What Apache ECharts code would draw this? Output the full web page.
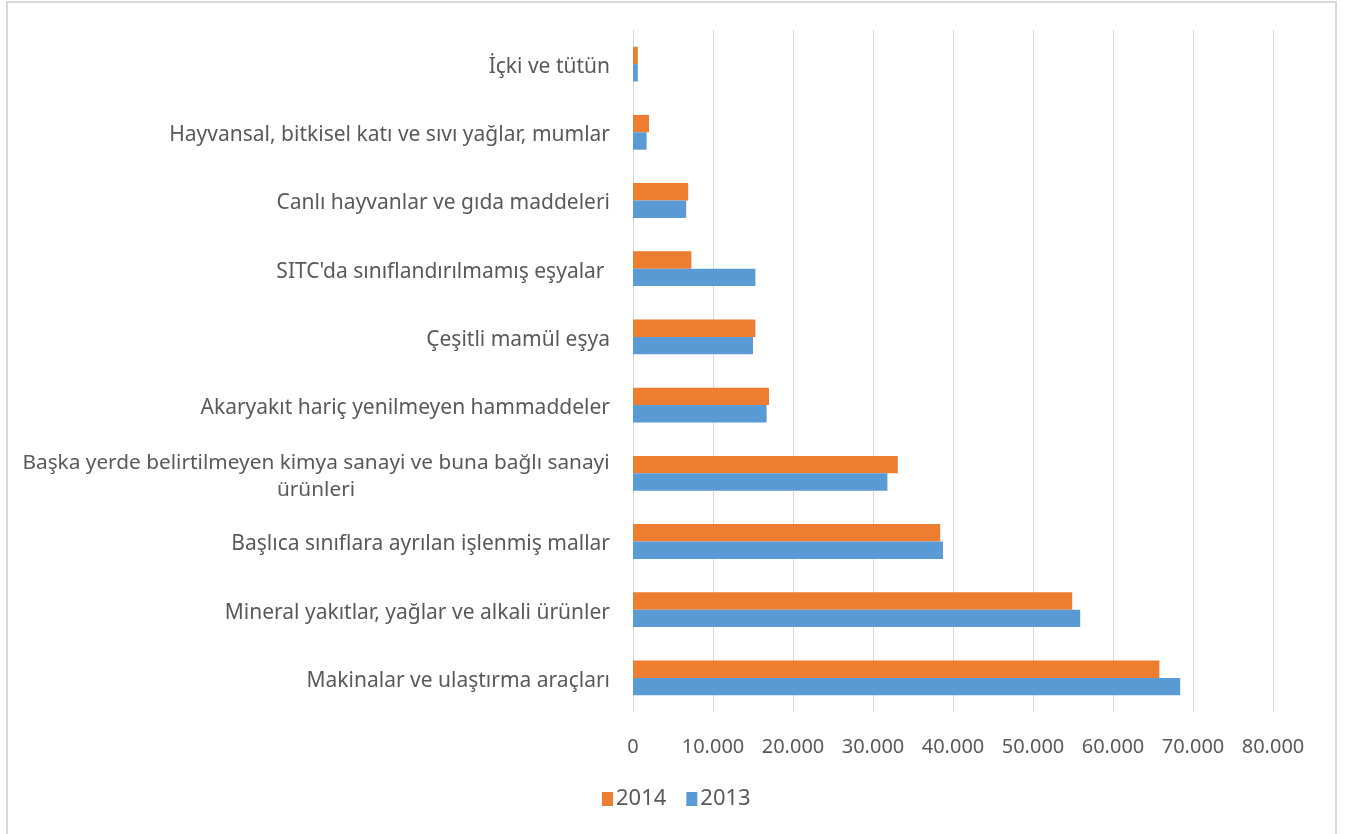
<!DOCTYPE html>
<html>
<head>
<meta charset="utf-8">
<script src="https://cdn.jsdelivr.net/npm/echarts@6/dist/echarts.min.js"></script>
<style>
  html, body { margin: 0; padding: 0; background: #fff; }
  #chart { width: 1357px; height: 834px; }
</style>
</head>
<body>
<div id="chart"></div>
<script>
// Categories listed bottom to top
const categories = [
  'Makinalar ve ulaştırma araçları',
  'Mineral yakıtlar, yağlar ve alkali ürünler',
  'Başlıca sınıflara ayrılan işlenmiş mallar',
  'Başka yerde belirtilmeyen kimya sanayi ve buna bağlı sanayi ürünleri',
  'Akaryakıt hariç yenilmeyen hammaddeler',
  'Çeşitli mamül eşya',
  "SITC'da sınıflandırılmamış eşyalar ",
  'Canlı hayvanlar ve gıda maddeleri',
  'Hayvansal, bitkisel katı ve sıvı yağlar, mumlar',
  'İçki ve tütün'
];
const values2014 = [65800, 54900, 38400, 33100, 17000, 15300, 7300, 6900, 2000, 600];
const values2013 = [68400, 55900, 38750, 31800, 16700, 15000, 15300, 6650, 1700, 600];
const seriesNames = ['2014', '2013'];

const LONG_SPLIT = 'Başka yerde belirtilmeyen kimya sanayi ve buna bağlı sanayi';

function fmtNum(v) {
  return String(v).replace(/\B(?=(\d{3})+(?!\d))/g, '.');
}

const chart = echarts.init(document.getElementById('chart'), null, { renderer: 'canvas' });
const textColor = '#595959';
const fontFamily = '"Noto Sans", sans-serif';

chart.setOption({
  animation: false,
  backgroundColor: '#ffffff',
  textStyle: { fontFamily: fontFamily },
  graphic: [{
    type: 'rect',
    shape: { x: 7, y: 2, width: 1329, height: 900 },
    style: { fill: 'none', stroke: '#d9d9d9', lineWidth: 2 },
    silent: true
  }],
  legend: {
    data: seriesNames,
    left: 597,
    top: 783,
    itemWidth: 11,
    itemHeight: 14,
    itemGap: 20,
    icon: 'rect',
    textStyle: { color: textColor, fontSize: 22, fontFamily: fontFamily, padding: [0, 0, 0, -2] }
  },
  grid: { left: 633, right: 84, top: 30, bottom: 122 },
  xAxis: {
    type: 'value',
    min: 0,
    max: 80000,
    interval: 10000,
    axisLine: { show: false },
    axisTick: { show: false },
    splitLine: { show: true, lineStyle: { color: '#d9d9d9', width: 1 } },
    axisLabel: {
      color: textColor,
      fontSize: 20,
      fontFamily: fontFamily,
      margin: 25,
      formatter: fmtNum
    }
  },
  yAxis: {
    type: 'category',
    data: categories,
    axisLine: { show: true, lineStyle: { color: '#d9d9d9', width: 1 } },
    axisTick: { show: false },
    axisLabel: {
      color: textColor,
      fontSize: 21,
      fontFamily: fontFamily,
      margin: 23,
      padding: [6, 0, 0, 0],
      formatter: function (v) {
        if (v.indexOf(LONG_SPLIT) === 0) {
          const rest = v.slice(LONG_SPLIT.length).trim();
          return '{c|' + LONG_SPLIT + '}\n{c|' + rest + '}';
        }
        return v;
      },
      rich: {
        c: { width: 588, align: 'center', fontSize: 20.8, color: textColor, fontFamily: fontFamily, lineHeight: 27 }
      }
    }
  },
  series: [
    {
      name: '2014',
      type: 'bar',
      data: values2014,
      itemStyle: { color: '#ED7D31' },
      barGap: '0%',
      barCategoryGap: '49%'
    },
    {
      name: '2013',
      type: 'bar',
      data: values2013,
      itemStyle: { color: '#5B9BD5' },
      barGap: '0%',
      barCategoryGap: '49%'
    }
  ]
});
</script>
</body>
</html>
